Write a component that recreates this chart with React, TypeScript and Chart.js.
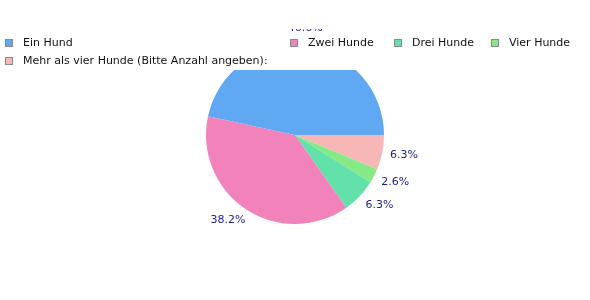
import React, { useEffect, useRef } from "react";
import { Chart, registerables } from "chart.js";

Chart.register(...registerables);

// ---- data ----
const categories = [
  "Ein Hund",
  "Zwei Hunde",
  "Drei Hunde",
  "Vier Hunde",
  "Mehr als vier Hunde (Bitte Anzahl angeben):",
];
const values = [46.6, 38.2, 6.3, 2.6, 6.3];
const colors = ["#60a8f2", "#f283ba", "#62e2aa", "#86e985", "#f7b7b7"];

// legend rows: indices of categories in each row
const legendRows = [[0, 1, 2, 3], [4]];
const legendX = [[5, 290, 394, 491], [5]];
const legendY = [43, 61];

const FONT = "'DejaVu Sans', sans-serif";
const LABEL_COLOR = "#1c1c84";

// slices run counter-clockwise from 3 o'clock in the reference,
// Chart.js draws clockwise, so feed the data in reverse order.
const order = values.map((_, i) => values.length - 1 - i);

const overlayPlugin = {
  id: "overlay",
  afterDatasetsDraw(chart: any) {
    const ctx: CanvasRenderingContext2D = chart.ctx;
    const meta = chart.getDatasetMeta(0);
    const W = chart.width;
    const H = chart.height;

    // value labels
    ctx.save();
    ctx.beginPath();
    ctx.rect(0, 29, W, H - 29);
    ctx.clip();
    ctx.font = `11px ${FONT}`;
    ctx.fillStyle = LABEL_COLOR;
    meta.data.forEach((arc: any, i: number) => {
      const p = arc.getProps(["x", "y", "startAngle", "endAngle", "outerRadius"], true);
      const mid = (p.startAngle + p.endAngle) / 2;
      const c = Math.cos(mid);
      const s = Math.sin(mid);
      const d = p.outerRadius + 8;
      const ax = p.x + c * d;
      const ay = p.y + s * d;
      const v = chart.data.datasets[0].data[i] as number;
      const text = v.toFixed(1) + "%";
      if (Math.abs(c) < 0.3) {
        ctx.textAlign = "center";
        if (s < 0) {
          ctx.textBaseline = "alphabetic";
          ctx.fillText(text, ax, ay - 8);
        } else {
          ctx.textBaseline = "top";
          ctx.fillText(text, ax, ay);
        }
      } else if (c > 0) {
        ctx.textAlign = "left";
        ctx.textBaseline = "middle";
        ctx.fillText(text, ax, ay + s * 5);
      } else {
        ctx.textAlign = "right";
        ctx.textBaseline = "middle";
        ctx.fillText(text, ax + 4, ay + s * 5);
      }
    });
    ctx.restore();

    // legend area (covers the top of the pie)
    ctx.save();
    ctx.fillStyle = "#ffffff";
    ctx.fillRect(0, 31, W, 39);
    ctx.font = `11px ${FONT}`;
    ctx.textBaseline = "middle";
    ctx.textAlign = "left";
    legendRows.forEach((row, r) => {
      row.forEach((idx, k) => {
        const x = legendX[r][k];
        const y = legendY[r];
        ctx.fillStyle = colors[idx];
        ctx.fillRect(x, y - 4, 8, 8);
        ctx.strokeStyle = "#8a8a8a";
        ctx.lineWidth = 1;
        ctx.strokeRect(x + 0.5, y - 3.5, 7, 7);
        ctx.fillStyle = "#111111";
        ctx.fillText(categories[idx], x + 18, y);
      });
    });
    ctx.restore();
  },
};

export default function App() {
  const ref = useRef<HTMLCanvasElement | null>(null);

  useEffect(() => {
    if (!ref.current) return;
    Chart.defaults.font.family = FONT;
    const chart = new Chart(ref.current, {
      type: "pie",
      data: {
        labels: order.map((i) => categories[i]),
        datasets: [
          {
            data: order.map((i) => values[i]),
            backgroundColor: order.map((i) => colors[i]),
            borderWidth: 0,
          },
        ],
      },
      options: {
        responsive: false,
        animation: false,
        rotation: 90,
        layout: { padding: { left: 206, right: 206, top: 46, bottom: 76 } },
        plugins: {
          legend: { display: false },
          tooltip: { enabled: false },
          title: { display: false },
        },
      },
      plugins: [overlayPlugin],
    });
    return () => chart.destroy();
  }, []);

  return (
    <div style={{ position: "absolute", left: 0, top: 0, width: 590, height: 300, background: "#fff" }}>
      <canvas ref={ref} width={590} height={300} />
    </div>
  );
}
